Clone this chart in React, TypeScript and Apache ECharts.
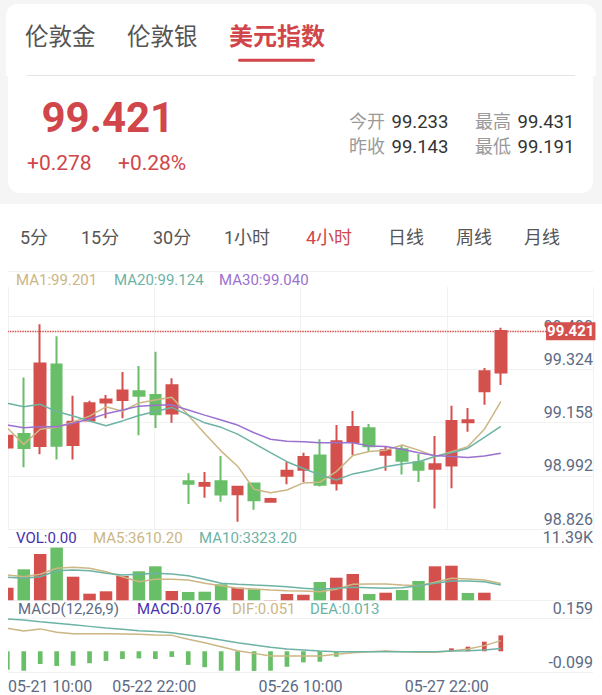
import React, { useEffect, useRef } from "react";
import * as echarts from "echarts";

// ---------- data ----------
const slots = Array.from({ length: 36 }, (_, i) => `k${i}`);

const openP = [99.058, 99.100, 99.063, 99.317, 99.066, 99.142, 99.198, 99.206, 99.233, 99.222, 99.164, 98.953, 98.939, 98.953, 98.913, 98.946, 98.889, 98.970, 98.989, 99.033, 98.947, 99.075, 99.118, 99.036, 99.053, 99.012, 98.992, 99.002, 99.137, 99.233, 99.292];
const closeP = [99.095, 99.057, 99.320, 99.064, 99.138, 99.196, 99.208, 99.236, 99.219, 99.162, 99.252, 98.945, 98.948, 98.912, 98.936, 98.894, 98.898, 98.986, 99.029, 98.942, 99.078, 99.122, 99.062, 99.050, 99.017, 98.989, 99.006, 99.141, 99.143, 99.296, 99.421];
const lowP = [99.054, 98.997, 99.037, 99.021, 99.021, 99.140, 99.149, 99.149, 99.096, 99.119, 99.135, 98.882, 98.902, 98.889, 98.827, 98.864, 98.886, 98.944, 98.951, 98.937, 98.924, 99.035, 99.045, 98.986, 98.974, 98.951, 98.868, 98.931, 99.107, 99.191, 99.253];
const highP = [99.098, 99.276, 99.442, 99.405, 99.219, 99.204, 99.222, 99.293, 99.312, 99.356, 99.274, 98.978, 98.982, 99.032, 98.938, 98.948, 98.902, 99.014, 99.042, 99.084, 99.128, 99.172, 99.131, 99.061, 99.065, 99.038, 99.094, 99.188, 99.181, 99.306, 99.431];

const ma1 = [99.119, 99.068, 99.115, 99.121, 99.138, 99.156, 99.185, 99.171, 99.197, 99.206, 99.215, 99.159, 99.102, 99.047, 99.000, 98.928, 98.917, 98.926, 98.948, 98.950, 98.983, 99.033, 99.046, 99.050, 99.066, 99.050, 99.030, 99.045, 99.061, 99.115, 99.201];
const ma20 = [99.196, 99.185, 99.193, 99.170, 99.156, 99.141, 99.126, 99.141, 99.158, 99.170, 99.183, 99.159, 99.135, 99.121, 99.100, 99.071, 99.042, 99.014, 98.993, 98.973, 98.957, 98.976, 98.986, 98.998, 99.007, 99.014, 99.030, 99.042, 99.056, 99.090, 99.124];
const ma30 = [99.128, 99.120, 99.123, 99.123, 99.134, 99.147, 99.163, 99.175, 99.187, 99.190, 99.191, 99.175, 99.159, 99.144, 99.128, 99.104, 99.084, 99.078, 99.076, 99.073, 99.073, 99.073, 99.063, 99.061, 99.053, 99.042, 99.033, 99.030, 99.027, 99.032, 99.040];

const volume = [2723, 6699, 10005, 11390, 5100, 1426, 1945, 5251, 6267, 7347, 2010, 1794, 1858, 3458, 2723, 2377, 60, 1361, 1210, 3955, 4884, 5683, 1361, 1642, 2226, 4171, 7347, 7477, 1578, 1642, 0];
const volUp = [1, 0, 1, 0, 1, 1, 1, 1, 0, 0, 1, 0, 0, 0, 1, 0, 1, 1, 1, 0, 1, 1, 0, 1, 0, 0, 1, 1, 0, 1, 1];
const volMa5 = [5467, 5100, 5619, 6915, 7131, 6915, 6180, 5100, 4019, 4538, 4538, 4387, 3674, 3155, 2593, 2442, 2226, 2075, 2010, 1858, 2377, 3458, 3522, 3522, 3306, 3155, 3890, 4754, 4603, 4387, 3610.2];
const volMa10 = [4970, 4754, 5100, 6397, 6548, 6397, 5835, 5467, 5619, 5835, 5683, 5316, 4538, 3674, 3458, 3306, 3155, 2939, 2593, 2377, 2593, 2809, 2723, 2593, 2723, 3155, 3674, 4171, 4171, 4019, 3323.2];

const macdHist = [-0.088, -0.093, -0.061, -0.070, -0.069, -0.057, -0.046, -0.037, -0.034, -0.037, -0.027, -0.065, -0.076, -0.093, -0.093, -0.094, -0.093, -0.074, -0.053, -0.050, -0.026, -0.005, -0.002, 0.003, -0.001, -0.002, -0.002, 0.014, 0.022, 0.046, 0.076];
const dif = [0.110, 0.097, 0.107, 0.091, 0.084, 0.084, 0.084, 0.083, 0.081, 0.078, 0.076, 0.057, 0.041, 0.022, 0.003, -0.010, -0.022, -0.022, -0.022, -0.022, -0.014, -0.007, -0.002, 0.001, -0.002, -0.005, -0.005, 0.001, 0.011, 0.027, 0.051];
const dea = [0.154, 0.150, 0.141, 0.134, 0.127, 0.119, 0.111, 0.105, 0.098, 0.094, 0.089, 0.078, 0.067, 0.054, 0.041, 0.030, 0.019, 0.011, 0.006, 0.001, -0.002, -0.002, -0.002, -0.002, -0.002, -0.002, -0.002, 0.001, 0.003, 0.006, 0.013];

const priceTicks = ["98.826", "98.992", "99.158", "99.324", "99.490"];
const volTicks = ["", "11.39K"];
const macdTicks = ["-0.099", "0.159"];
const timeTicks = ["05-21 10:00", "05-22 22:00", "05-26 10:00", "05-27 22:00"];

const markets = ["伦敦金", "伦敦银", "美元指数"];
const periods = ["5分", "15分", "30分", "1小时", "4小时", "日线", "周线", "月线"];
const activeMarket = 2;
const activePeriod = 4;

const prevClose = 99.143;
const todayOpen = 99.233;
const dayHigh = 99.431;
const dayLow = 99.191;

// ---------- style ----------
const FONT = 'Roboto, "Noto Sans CJK SC", sans-serif';
const RED = "#d4504d";
const GREEN = "#69be68";
const TAN = "#cbb684";
const TEAL = "#6db3a4";
const PURPLE = "#9b71cf";
const INDIGO = "#4a30ae";
const SLATE = "#5c6a84";
const ACCENT = "#d0464a";

const PLOT_L = 7.3;
const PLOT_W = 575.75;
const LBL_L = 8;
const LBL_W = 585;

function txt(text: string, x: number, y: number, fill: string, size: number, extra: any = {}) {
  return {
    type: "text",
    x,
    y,
    z: 10,
    style: { text, fill, fontSize: size, fontFamily: FONT, verticalAlign: "middle", align: "left", ...extra },
  };
}

function buildOption(): any {
  const last = closeP[closeP.length - 1];
  const chg = last - prevClose;
  const pct = (chg / prevClose) * 100;
  const n = closeP.length - 1;

  const marketX = [25, 127, 229];
  const periodX = [20, 81, 153, 224, 306, 388, 456, 524];

  const graphic: any[] = [
    { type: "rect", z: -5, shape: { x: 0, y: 0, width: 602, height: 204 }, style: { fill: "#f5f5f5" } },
    { type: "rect", z: -4, shape: { x: 6, y: 4, width: 590, height: 72, r: [12, 12, 0, 0] }, style: { fill: "#fff" } },
    { type: "rect", z: -4, shape: { x: 8, y: 75, width: 585, height: 118, r: [0, 0, 12, 12] }, style: { fill: "#fff" } },
    { type: "line", z: -3, shape: { x1: 27, y1: 75.5, x2: 575, y2: 75.5 }, style: { stroke: "#e4e4e4", lineWidth: 1 } },
    { type: "rect", z: 10, shape: { x: 238, y: 58.8, width: 77, height: 3, r: 1.5 }, style: { fill: ACCENT } },
    { type: "line", z: -3, shape: { x1: 8, y1: 271.5, x2: 593, y2: 271.5 }, style: { stroke: "#f0f0f0", lineWidth: 1 } },
    // left edge mask: the first (partial) candle is cut at the plot's left edge
    { type: "rect", z: 100, shape: { x: 0, y: 300, width: 8, height: 375 }, style: { fill: "#fff" } },
  ];
  markets.forEach((m, i) => {
    const active = i === activeMarket;
    graphic.push(txt(m, marketX[i], 37, active ? ACCENT : "#555", active ? 24 : 23.5, active ? { fontWeight: "bold" } : {}));
  });
  graphic.push(txt(last.toFixed(3), 41.5, 117.5, ACCENT, 42, { fontWeight: "bold" }));
  graphic.push(txt(`+${chg.toFixed(3)}`, 27, 163, ACCENT, 21));
  graphic.push(txt(`+${pct.toFixed(2)}%`, 118, 163, ACCENT, 21));
  const info = [
    ["今开", todayOpen, 349, 121.7],
    ["最高", dayHigh, 475, 121.7],
    ["昨收", prevClose, 349, 146.7],
    ["最低", dayLow, 475, 146.7],
  ] as const;
  info.forEach(([label, v, x, y]) => {
    graphic.push(txt(label, x, y, "#9a9a9a", 18));
    graphic.push(txt(v.toFixed(3), x + 42.5, y, "#333", 18.5));
  });
  periods.forEach((p, i) => {
    graphic.push(txt(p, periodX[i], 237, i === activePeriod ? ACCENT : "#555", 18));
  });
  // legends
  graphic.push(txt(`MA1:${ma1[n].toFixed(3)}`, 16, 280, TAN, 15));
  graphic.push(txt(`MA20:${ma20[n].toFixed(3)}`, 114, 280, TEAL, 15));
  graphic.push(txt(`MA30:${ma30[n].toFixed(3)}`, 219, 280, PURPLE, 15));
  graphic.push(txt(`VOL:${volume[n].toFixed(2)}`, 16, 538, INDIGO, 15));
  graphic.push(txt(`MA5:${volMa5[n].toFixed(2)}`, 93, 538, TAN, 15));
  graphic.push(txt(`MA10:${volMa10[n].toFixed(2)}`, 199, 538, TEAL, 15));
  graphic.push(txt("MACD(12,26,9)", 18, 609, SLATE, 15));
  graphic.push(txt(`MACD:${macdHist[n].toFixed(3)}`, 137, 609, INDIGO, 15));
  graphic.push(txt(`DIF:${dif[n].toFixed(3)}`, 232, 609, TAN, 15));
  graphic.push(txt(`DEA:${dea[n].toFixed(3)}`, 310, 609, TEAL, 15));

  const hiddenCat = (gridIndex: number) => ({
    gridIndex,
    type: "category",
    data: slots,
    boundaryGap: false,
    show: false,
  });
  const labelStyle = { color: SLATE, fontSize: 16, fontFamily: FONT };
  const split = { show: true, lineStyle: { color: "#f1f1f1", width: 1 } };

  const line = (data: number[], color: string, xi: number, yi: number) => ({
    type: "line",
    xAxisIndex: xi,
    yAxisIndex: yi,
    data,
    symbol: "none",
    smooth: false,
    clip: true,
    lineStyle: { color, width: 1.5 },
    silent: true,
  });

  return {
    animation: false,
    backgroundColor: "#fff",
    graphic: { elements: graphic },
    grid: [
      { left: PLOT_L, width: PLOT_W, top: 316, height: 213 },
      { left: PLOT_L, width: PLOT_W, top: 547.6, height: 52.7 },
      { left: PLOT_L, width: PLOT_W, top: 618, height: 54 },
      { left: LBL_L, width: LBL_W, top: 316, height: 213 },
      { left: LBL_L, width: LBL_W, top: 287, height: 242 },
      { left: LBL_L, width: LBL_W, top: 547.6, height: 52.7 },
      { left: LBL_L, width: LBL_W, top: 618, height: 54 },
    ],
    xAxis: [
      hiddenCat(0),
      hiddenCat(1),
      hiddenCat(2),
      { gridIndex: 3, type: "value", min: 0, max: 4, show: false },
      {
        gridIndex: 4, type: "value", min: 0, max: 4, interval: 1,
        axisLine: { show: false }, axisTick: { show: false }, axisLabel: { show: false },
        splitLine: split,
      },
      { gridIndex: 5, type: "value", min: 0, max: 4, show: false },
      {
        gridIndex: 6, type: "value", min: 0, max: 4, interval: 1, position: "bottom",
        axisLine: { show: false }, axisTick: { show: false }, splitLine: { show: false },
        axisLabel: {
          ...labelStyle,
          margin: 6,
          alignMinLabel: "left",
          showMaxLabel: false,
          formatter: (v: number) => timeTicks[Math.round(v)] ?? "",
        },
      },
    ],
    yAxis: [
      { gridIndex: 0, type: "value", min: 98.8044, max: 99.4677, show: false },
      { gridIndex: 1, type: "value", min: 0, max: 11390, show: false },
      { gridIndex: 2, type: "value", min: -0.099, max: 0.159, show: false },
      {
        gridIndex: 3, type: "value", min: 0, max: 4, interval: 1, position: "right",
        axisLine: { show: false }, axisTick: { show: false }, splitLine: split,
        axisLabel: {
          ...labelStyle, inside: true, margin: 0, verticalAlign: "bottom", lineHeight: 20,
          verticalAlignMaxLabel: "top",
          formatter: (v: number) => priceTicks[Math.round(v)] ?? "",
        },
      },
      { gridIndex: 4, type: "value", min: 0, max: 1, show: false },
      {
        gridIndex: 5, type: "value", min: 0, max: 1, interval: 1, position: "right",
        axisLine: { show: false }, axisTick: { show: false }, splitLine: split,
        axisLabel: {
          ...labelStyle, inside: true, margin: 0, verticalAlign: "bottom", lineHeight: 20,
          formatter: (v: number) => volTicks[Math.round(v)] ?? "",
        },
      },
      {
        gridIndex: 6, type: "value", min: 0, max: 1, interval: 1, position: "right",
        axisLine: { show: false }, axisTick: { show: false }, splitLine: split,
        axisLabel: {
          ...labelStyle, inside: true, margin: 0, verticalAlign: "bottom", lineHeight: 20,
          formatter: (v: number) => macdTicks[Math.round(v)] ?? "",
        },
      },
    ],
    series: [
      {
        type: "candlestick",
        xAxisIndex: 0,
        yAxisIndex: 0,
        clip: true,
        data: openP.map((o, i) => [o, closeP[i], lowP[i], highP[i]]),
        barWidth: 11,
        itemStyle: { color: RED, color0: GREEN, borderColor: RED, borderColor0: GREEN, borderWidth: 2 },
        markLine: {
          silent: true,
          symbol: ["none", "none"],
          itemStyle: { color: RED },
          lineStyle: { color: RED, width: 1.3, type: [1.5, 1], opacity: 1 },
          label: {
            show: true,
            position: "end",
            distance: [-37, 0],
            formatter: () => last.toFixed(3),
            color: "#fff",
            backgroundColor: RED,
            padding: [2, 1, 1, 1],
            fontSize: 15,
            fontWeight: "bold",
            fontFamily: FONT,
          },
          data: [{ yAxis: last }],
        },
      },
      line(ma1, TAN, 0, 0),
      line(ma20, TEAL, 0, 0),
      line(ma30, PURPLE, 0, 0),
      {
        type: "bar",
        xAxisIndex: 1,
        yAxisIndex: 1,
        barWidth: 12.5,
        clip: true,
        data: volume.map((v, i) => ({ value: v, itemStyle: { color: volUp[i] ? RED : GREEN } })),
        silent: true,
      },
      line(volMa5, TAN, 1, 1),
      line(volMa10, TEAL, 1, 1),
      {
        type: "bar",
        xAxisIndex: 2,
        yAxisIndex: 2,
        barWidth: 4.7,
        clip: true,
        data: macdHist.map((v) => ({ value: v, itemStyle: { color: v >= 0 ? RED : GREEN } })),
        silent: true,
      },
      line(dif, TAN, 2, 2),
      line(dea, TEAL, 2, 2),
    ],
  };
}

export default function App() {
  const ref = useRef<HTMLDivElement>(null);
  useEffect(() => {
    document.body.style.margin = "0";
    const chart = echarts.init(ref.current!, null, { renderer: "svg" });
    chart.setOption(buildOption());
    return () => chart.dispose();
  }, []);
  return <div ref={ref} style={{ width: 602, height: 695, background: "#fff" }} />;
}
